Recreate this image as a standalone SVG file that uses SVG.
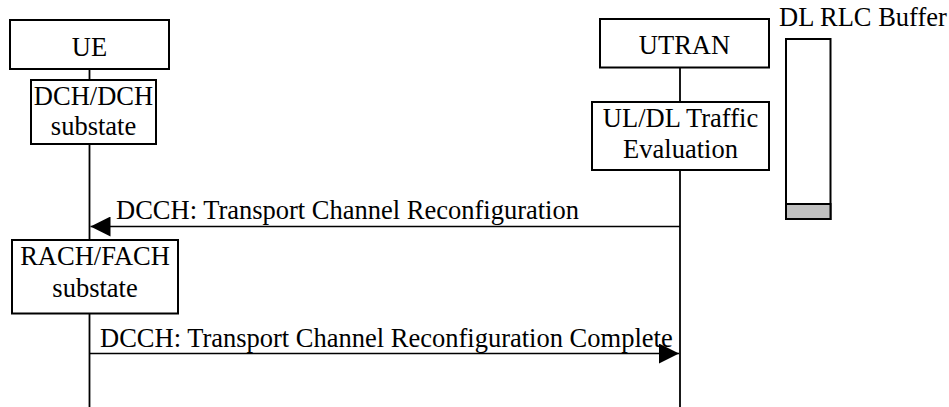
<svg xmlns="http://www.w3.org/2000/svg" width="949" height="407" viewBox="0 0 949 407">
  <defs>
    <style>
      .box { fill: #ffffff; stroke: #000000; stroke-width: 2; }
      .life { stroke: #000000; stroke-width: 1.8; fill: none; }
      .msg { stroke: #000000; stroke-width: 1.6; fill: none; }
      .t { font-family: "Liberation Serif", "Times New Roman", serif; font-size: 26.5px; fill: #000000; }
      .c { text-anchor: middle; }
    </style>
    <marker id="arrow" viewBox="0 0 20 20" refX="20" refY="10" markerWidth="20" markerHeight="20" markerUnits="userSpaceOnUse" orient="auto">
      <path d="M0,0 L20,10 L0,20 z" fill="#000000"/>
    </marker>
  </defs>
  <rect width="949" height="407" fill="#ffffff"/>

  <g id="connectors">
    <line class="life" x1="89.5" y1="69" x2="89.5" y2="407"/>
    <line class="life" x1="680" y1="68" x2="680" y2="407"/>
    <line class="msg" x1="680" y1="226.5" x2="90.5" y2="226.5" marker-end="url(#arrow)"/>
    <text class="t" x="116" y="219">DCCH: Transport Channel Reconfiguration</text>
    <line class="msg" x1="89.5" y1="353.5" x2="679" y2="353.5" marker-end="url(#arrow)"/>
    <text class="t" x="100" y="347">DCCH: Transport Channel Reconfiguration Complete</text>
  </g>

  <g id="ue">
    <rect class="box" x="10" y="20" width="159" height="49"/>
    <text class="t c" x="89.5" y="56">UE</text>
  </g>

  <g id="dch-substate">
    <rect class="box" x="31" y="80" width="125" height="64"/>
    <text class="t c" x="93.5" y="104.5">DCH/DCH</text>
    <text class="t c" x="93.5" y="134.5">substate</text>
  </g>

  <g id="rach-substate">
    <rect class="box" x="12" y="240" width="166" height="73.5"/>
    <text class="t c" x="95" y="265">RACH/FACH</text>
    <text class="t c" x="95" y="296.5">substate</text>
  </g>

  <g id="utran">
    <rect class="box" x="600" y="19" width="169" height="48.5"/>
    <text class="t c" x="684.5" y="54">UTRAN</text>
  </g>

  <g id="traffic-eval">
    <rect class="box" x="592" y="102" width="177" height="68"/>
    <text class="t c" x="680.5" y="127">UL/DL Traffic</text>
    <text class="t c" x="680.5" y="158">Evaluation</text>
  </g>

  <g id="dl-rlc-buffer">
    <text class="t" x="779" y="26">DL RLC Buffer</text>
    <rect class="box" x="786" y="39" width="44.5" height="180"/>
    <rect x="786" y="204" width="44.5" height="15" fill="#c0c0c0" stroke="#000000" stroke-width="2"/>
  </g>
</svg>
